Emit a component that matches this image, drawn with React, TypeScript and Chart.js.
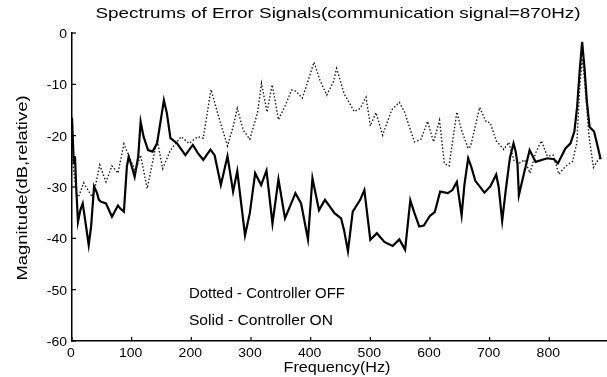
import React, { useEffect, useRef } from "react";
import { Chart, registerables } from "chart.js";

Chart.register(...registerables);

// Controller OFF (dotted)
const offFreq = [0, 4, 8, 11, 19.6, 33.5, 39, 46.5, 57, 67, 77, 87, 98, 106, 115, 126, 142.6, 152, 165, 183, 196, 211, 220, 233, 245, 260.6, 270, 277, 287, 298, 311, 317.6, 323, 327, 330.5, 335.6, 346, 358, 368, 375, 386, 396, 405.5, 415.6, 427, 438, 443.5, 456, 473, 483, 492.8, 500, 509.5, 520.6, 535.7, 548.6, 557, 573.8, 585, 596, 606, 616, 624, 632, 645, 652.5, 664, 668, 683.3, 694, 701, 711, 723.7, 732, 741, 749, 758.6, 767.6, 777, 786.6, 796.6, 806.6, 816, 827, 839, 846, 851, 855, 858, 862.4, 866.4, 874, 879.5, 886];
const offDb = [-24, -28, -31.5, -31.9, -29.2, -31.9, -29.9, -25.7, -29, -25.9, -27.3, -21.6, -24.7, -27, -23.8, -30.3, -20.8, -26.4, -22.8, -20.2, -21.5, -20.2, -20.5, -11, -16, -22, -18.3, -14.7, -18.9, -20.7, -15.5, -9.8, -13.1, -15.4, -13.1, -10.1, -16.9, -14, -11.1, -11.3, -12.7, -9.2, -5.7, -9.2, -12.1, -9.5, -6.9, -11.8, -15.3, -14.7, -12.5, -18.1, -15.5, -19.9, -15, -13.5, -15.3, -21.2, -20.7, -17.2, -21.2, -17, -25.4, -25.9, -15.4, -18.8, -22.5, -22.1, -14.5, -17.3, -17.5, -21, -22.7, -21.3, -24.9, -25.4, -24.7, -27.3, -23.4, -21, -24, -23.8, -27.5, -26, -25, -21.5, -10.5, -5, -8, -14, -20, -26.2, -25.1, -24.1];

// Controller ON (solid)
const onFreq = [0, 3, 5, 7, 10, 14, 18, 22, 28, 32, 37, 42, 45, 49, 57, 67, 77, 81, 87, 92, 95, 99.5, 105, 111, 115, 120, 127.5, 135, 142.6, 154, 159, 165, 176, 190, 202.5, 211, 220, 232, 239, 249.5, 260.6, 270, 277, 290, 298, 307, 317, 326, 336, 346, 357, 374.5, 384, 395.5, 403, 414, 424, 440, 451, 456, 462.5, 470.5, 483, 490, 500, 511, 523.5, 537.4, 548.6, 558.3, 567, 574, 582, 589.6, 600, 608, 617, 630, 637.6, 645, 653, 657.7, 664, 669, 676, 691.3, 701, 711, 715, 721, 727, 734, 740, 743.6, 746.6, 749, 757.6, 767, 777, 796.6, 807.7, 814.4, 827, 835.5, 842, 846.6, 851, 855, 859, 863, 867.5, 875, 880.5, 886];
const onDb = [-16.5, -25.5, -24, -30, -36.8, -34.5, -33.2, -36.4, -41.3, -37.7, -29.9, -31.2, -32.5, -32.9, -33.2, -35.8, -33.6, -34.2, -34.8, -26, -24.1, -25.7, -28, -24.1, -17.3, -20.2, -22.8, -23.1, -21.5, -13.1, -15.6, -20.5, -21.5, -23.8, -21.8, -23.4, -24.7, -22.7, -23.8, -29.6, -24, -30.9, -26.9, -39.4, -35.1, -27.3, -29.6, -26.8, -37.1, -28.5, -36.1, -31.2, -33.2, -40.2, -28.3, -34.5, -32.5, -35.1, -36.1, -38.4, -42.5, -34.8, -32.5, -30.6, -40.3, -39, -40.7, -41.5, -40.2, -42.2, -32.6, -35.1, -37.7, -37.5, -35.6, -34.9, -30.9, -31.2, -30.6, -29, -35.5, -29.6, -24.4, -26, -28.8, -31.1, -29.9, -27.6, -29.9, -36.6, -30.6, -24.3, -21.5, -23.1, -25.4, -31.6, -27.3, -22.8, -25.1, -24.4, -24.6, -25.4, -22.5, -21.5, -19.2, -14.4, -7.2, -1.7, -6.9, -13.4, -18.3, -19.2, -21.8, -24.6];

const xTickValues = [0, 100, 200, 300, 400, 500, 600, 700, 800];
const yTickValues = [0, -10, -20, -30, -40, -50, -60];

const titleText = "Spectrums of Error Signals(communication signal=870Hz)";
const xTitleText = "Frequency(Hz)";
const yTitleText = "Magnitude(dB,relative)";
const legendOff = "Dotted - Controller OFF";
const legendOn = "Solid - Controller ON";

const FONT = '"Liberation Sans", Arial, Helvetica, sans-serif';

function drawText(
  ctx: CanvasRenderingContext2D,
  text: string,
  x: number,
  y: number,
  size: number,
  target: number | null,
  align: CanvasTextAlign,
  rotate = 0,
  sxFixed = 1
) {
  ctx.save();
  ctx.font = `${size}px ${FONT}`;
  const w = ctx.measureText(text).width;
  const sx = target ? target / w : sxFixed;
  ctx.translate(x, y);
  if (rotate) ctx.rotate(rotate);
  ctx.scale(sx, 1);
  ctx.textAlign = align;
  ctx.textBaseline = "alphabetic";
  ctx.fillStyle = "#000";
  ctx.fillText(text, 0, 0);
  ctx.restore();
}

const decorPlugin = {
  id: "decor",
  afterDraw(chart: any) {
    const ctx: CanvasRenderingContext2D = chart.ctx;
    const xs = chart.scales.x;
    const ys = chart.scales.y;
    const ca = chart.chartArea;
    ctx.save();
    ctx.strokeStyle = "#000";
    ctx.lineWidth = 1.2;
    xTickValues.forEach((v) => {
      const px = xs.getPixelForValue(v);
      ctx.beginPath();
      ctx.moveTo(px, ca.bottom);
      ctx.lineTo(px, ca.bottom - 4);
      ctx.stroke();
    });
    yTickValues.forEach((v) => {
      const py = ys.getPixelForValue(v);
      ctx.beginPath();
      ctx.moveTo(ca.left, py);
      ctx.lineTo(ca.left + 4, py);
      ctx.stroke();
    });
    ctx.restore();

    xTickValues.forEach((v) =>
      drawText(ctx, String(v), xs.getPixelForValue(v) - 1, ca.bottom + 16, 13, null, "center", 0, 1.08)
    );
    yTickValues.forEach((v) =>
      drawText(ctx, String(v), ca.left - 5, ys.getPixelForValue(v) + 5, 13, null, "right", 0, 1.08)
    );

    drawText(ctx, titleText, 338, 18, 15, 485, "center");
    drawText(ctx, xTitleText, 337, 372, 14, 107, "center");
    drawText(ctx, yTitleText, 27, 188, 14, 185, "center", -Math.PI / 2);
    drawText(ctx, legendOff, xs.getPixelForValue(196), ys.getPixelForValue(-51.6), 14, 156, "left");
    drawText(ctx, legendOn, xs.getPixelForValue(196), ys.getPixelForValue(-56.9), 14, 144, "left");
  },
};

export default function App() {
  const ref = useRef<HTMLCanvasElement | null>(null);
  useEffect(() => {
    if (!ref.current) return;
    const chart = new Chart(ref.current, {
      type: "line",
      data: {
        datasets: [
          {
            label: "Controller OFF",
            data: offFreq.map((f, i) => ({ x: f, y: offDb[i] })),
            borderColor: "#1a1a1a",
            borderWidth: 1.4,
            borderDash: [1.5, 2],
            pointRadius: 0,
            tension: 0,
            fill: false,
          },
          {
            label: "Controller ON",
            data: onFreq.map((f, i) => ({ x: f, y: onDb[i] })),
            borderColor: "#000",
            borderWidth: 2.2,
            pointRadius: 0,
            tension: 0,
            fill: false,
          },
        ],
      },
      options: {
        animation: false,
        responsive: false,
        events: [],
        layout: { padding: { top: 33, right: 1, left: 0, bottom: 0 } },
        plugins: { legend: { display: false }, title: { display: false }, tooltip: { enabled: false } },
        scales: {
          x: {
            type: "linear",
            min: 0,
            max: 895,
            grid: { display: false, drawTicks: false },
            border: { display: true, color: "#000", width: 1.5 },
            ticks: { display: false },
            afterBuildTicks: (s: any) => {
              s.ticks = xTickValues.map((v) => ({ value: v }));
            },
            afterFit: (s: any) => {
              s.height = 36;
            },
          },
          y: {
            type: "linear",
            min: -60,
            max: 0,
            grid: { display: false, drawTicks: false },
            border: { display: true, color: "#000", width: 1.5 },
            ticks: { display: false },
            afterBuildTicks: (s: any) => {
              s.ticks = yTickValues.map((v) => ({ value: v }));
            },
            afterFit: (s: any) => {
              s.width = 72;
            },
          },
        },
      },
      plugins: [decorPlugin],
    });
    return () => chart.destroy();
  }, []);
  return (
    <div style={{ position: "absolute", left: 0, top: 0, width: 607, height: 377, background: "#fff" }}>
      <canvas ref={ref} width={607} height={377} style={{ display: "block" }} />
    </div>
  );
}
